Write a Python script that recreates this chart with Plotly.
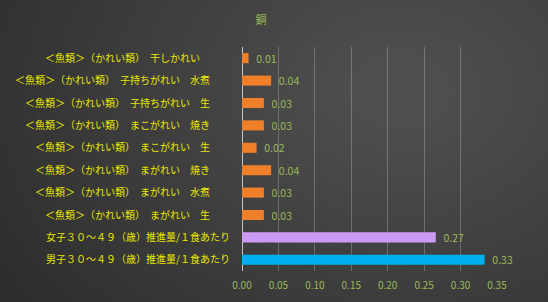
import plotly.graph_objects as go

categories = [
    "＜魚類＞（かれい類）　干しかれい　　　",
    "＜魚類＞（かれい類）　子持ちがれい　水煮　　",
    "＜魚類＞（かれい類）　子持ちがれい　生　　",
    "＜魚類＞（かれい類）　まこがれい　焼き　　",
    "＜魚類＞（かれい類）　まこがれい　生　　",
    "＜魚類＞（かれい類）　まがれい　焼き　　",
    "＜魚類＞（かれい類）　まがれい　水煮　　",
    "＜魚類＞（かれい類）　まがれい　生　　",
    "女子３０～４９（歳）推進量/１食あたり",
    "男子３０～４９（歳）推進量/１食あたり",
]
values = [0.009, 0.04, 0.03, 0.03, 0.02, 0.04, 0.03, 0.03, 0.266, 0.333]
colors = ["#f07f2a"] * 8 + ["#cc99f5", "#00b0f0"]
tick_vals = [0.0, 0.05, 0.10, 0.15, 0.20, 0.25, 0.30, 0.35]

W, H = 548, 302
ml, mr, mt, mb = 242, 51, 47, 31
pw, ph = W - ml - mr, H - mt - mb

def px_x(p):
    return (p - ml) / pw

def px_y(p):
    return (H - mb - p) / ph

fig = go.Figure()
fig.add_trace(go.Bar(
    y=categories, x=values, orientation="h",
    marker=dict(color=colors, line=dict(width=0)),
    text=[f"{v:.2f}" for v in values], textposition="outside",
    texttemplate="  %{text}",
    constraintext="none",
    textfont=dict(color="#9bbb59", size=10.5, family="Noto Sans CJK JP"),
    cliponaxis=False,
))

shapes = []
cx, cy = 400, 90
n = 40
for i in range(n):
    r = 560 - i * 13
    shapes.append(dict(
        type="circle", xref="paper", yref="paper", layer="below",
        x0=px_x(cx - r), x1=px_x(cx + r), y0=px_y(cy + r * 0.75), y1=px_y(cy - r * 0.75),
        fillcolor="rgba(255,255,255,0.0065)", line=dict(width=0),
    ))

fig.update_layout(
    width=W, height=H,
    margin=dict(l=ml, r=mr, t=mt, b=mb, pad=0, autoexpand=False),
    paper_bgcolor="#262626", plot_bgcolor="rgba(0,0,0,0)",
    showlegend=False, bargap=0.55,
    shapes=shapes,
    font=dict(family="Noto Sans CJK JP", size=10),
    title=dict(text="銅", x=261 / W, xanchor="center", xref="container",
               y=1 - 20 / H, yanchor="middle", yref="container",
               font=dict(color="#9bbb59", size=11, family="Noto Sans CJK JP")),
    xaxis=dict(range=[0, 0.35], tickvals=tick_vals, ticktext=[f"{v:.2f}" for v in tick_vals],
               showgrid=True, gridcolor="rgba(210,210,210,0.3)", gridwidth=1,
               zeroline=True, zerolinecolor="rgba(230,230,230,0.8)", zerolinewidth=1,
               tickfont=dict(color="#9bbb59", size=10), showline=False,
               ticks="outside", ticklen=5, tickcolor="rgba(0,0,0,0)",
               automargin=False, fixedrange=True),
    yaxis=dict(autorange="reversed", tickfont=dict(color="#e8e800", size=10),
               showgrid=False, ticks="outside", ticklen=9, tickcolor="rgba(0,0,0,0)",
               automargin=False, fixedrange=True),
)
fig.write_html("out.html")
